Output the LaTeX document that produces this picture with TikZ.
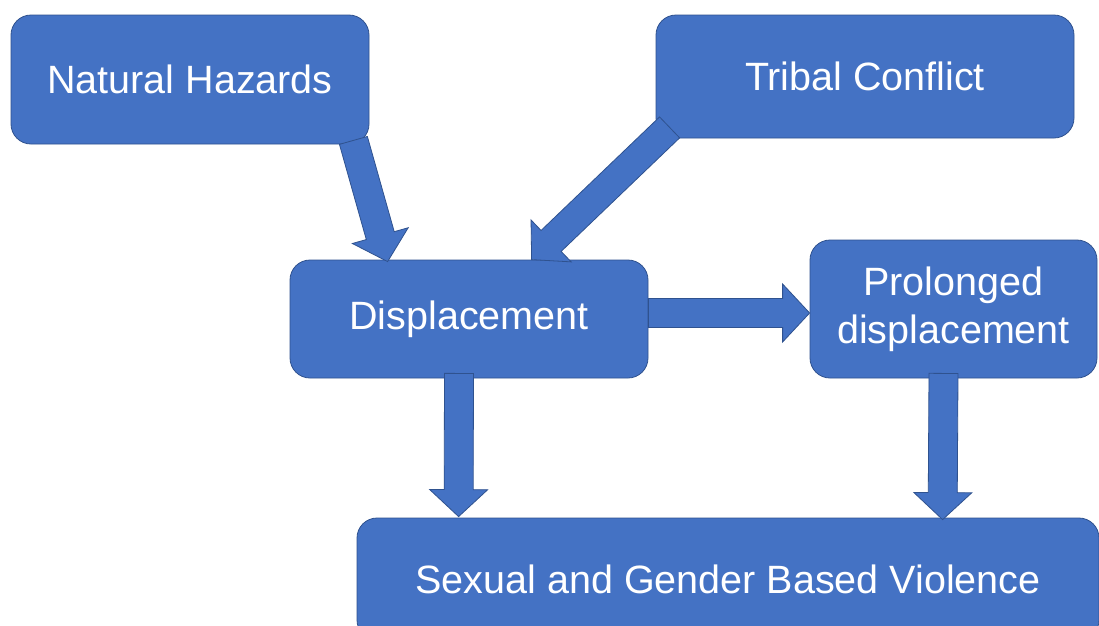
\documentclass[tikz,border=0pt]{standalone}
\usepackage{fontspec}
\setmainfont{Liberation Sans}
\usetikzlibrary{calc}
\definecolor{boxblue}{HTML}{4472C4}
\definecolor{edgeblue}{HTML}{2F528F}
\tikzset{
  box/.style={draw=edgeblue, line width=0.8pt, fill=boxblue, rounded corners=20pt,
    text=white, font=\fontsize{39.5}{48}\selectfont, align=center, inner sep=0pt},
  barrow/.style={draw=edgeblue, line width=0.8pt, fill=boxblue, line join=miter},
}
\newcommand\blockarrow[2]{%
  \path ($(#2)!27pt!(#1)$) coordinate (hb);
  \draw[barrow] ($(#1)!14.5pt!90:(#2)$) -- ($(hb)!14.5pt!90:(#2)$) -- ($(hb)!29pt!90:(#2)$)
    -- (#2) -- ($(hb)!29pt!-90:(#2)$) -- ($(hb)!14.5pt!-90:(#2)$) -- ($(#1)!14.5pt!-90:(#2)$) -- cycle;
}
\begin{document}
\begin{tikzpicture}[x=1pt,y=-1pt]
\useasboundingbox (0,0) rectangle (1099,625);
\fill[white] (0,0) rectangle (1099,625);
\node[box, minimum width=358pt, minimum height=129pt] (nh) at (190,79.5) {Natural Hazards};
\node[box, minimum width=418pt, minimum height=123pt] (tc) at (865,76.5) {Tribal Conflict};
\node[box, minimum width=358pt, minimum height=118pt] (dp) at (469,319) {Displacement};
\node[box, minimum width=287pt, minimum height=138pt] (pd) at (953.5,309) {Prolonged\\displacement};
\node[box, minimum width=742pt, minimum height=122pt] (sg) at (728,579) {Sexual and Gender Based Violence};
% connectors
\coordinate (a1s) at ($(nh.south east)+(-16,-4)$);
\coordinate (a1t) at ($(dp.north west)+(98,2)$);
\coordinate (a2s) at ($(tc.south west)+(14,-11)$);
\coordinate (a2t) at ($(dp.north west)+(242,0)$);
\coordinate (a3s) at ($(dp.east)+(0,-6)$);
\coordinate (a3t) at ($(pd.west)+(0,4)$);
\coordinate (a4s) at ($(dp.south)+(-10,-5)$);
\coordinate (a4t) at ($(sg.north west)+(102,-1)$);
\coordinate (a5s) at ($(pd.south)+(-10,-5)$);
\coordinate (a5t) at ($(sg.north west)+(586,2)$);
\blockarrow{a1s}{a1t}
\blockarrow{a2s}{a2t}
\blockarrow{a3s}{a3t}
\blockarrow{a4s}{a4t}
\blockarrow{a5s}{a5t}
\end{tikzpicture}
\end{document}
